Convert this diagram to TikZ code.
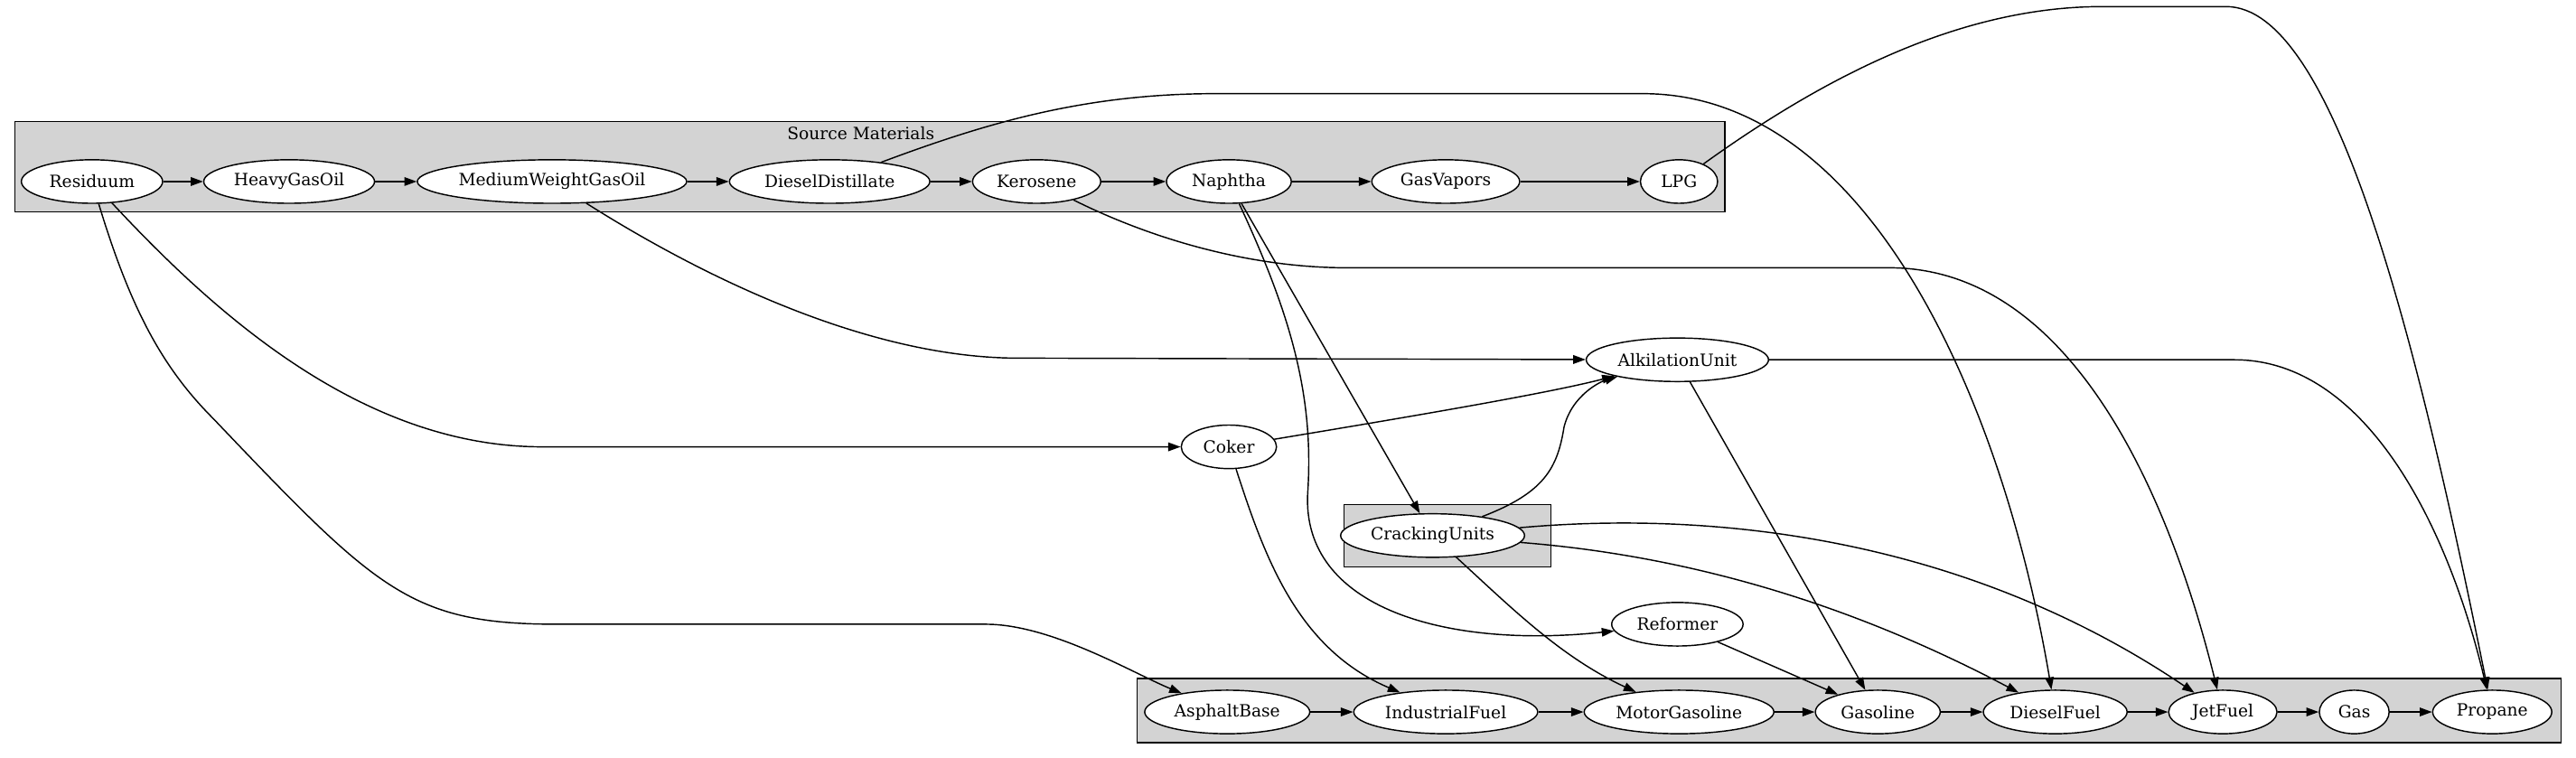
\documentclass[tikz,border=0pt]{standalone}
\usepackage{fontspec}
\setmainfont{DejaVu Serif}
\usetikzlibrary{shapes.geometric,arrows.meta}
\definecolor{clusterGray}{RGB}{211,211,211}

\begin{document}
\begin{tikzpicture}[x=0.02cm, y=-0.02cm,
  every node/.style={font=\fontsize{5.84}{7}\selectfont},
  stage/.style={ellipse, draw, fill=white, inner sep=0pt, minimum height=0.53cm},
  cluster/.style={draw, fill=clusterGray},
  flow/.style={-{Triangle[length=0.15cm,width=0.105cm]}},
  every path/.style={line width=0.45pt}]
  \useasboundingbox (0,0) rectangle (1568,461);
  % Clusters
  \draw[cluster] (9,74) rectangle (1050,129);
  \node (srcLabel) at (524,81) {Source Materials};
  \draw[cluster] (818,307) rectangle (944,345);
  \draw[cluster] (692,413) rectangle (1559,452);
  % Source materials
  \node[stage, minimum width=1.72cm] (Residuum) at (56,110.5) {Residuum};
  \node[stage, minimum width=2.08cm] (HeavyGasOil) at (176,110.5) {HeavyGasOil};
  \node[stage, minimum width=3.28cm] (MediumWeightGasOil) at (336,110.5) {MediumWeightGasOil};
  \node[stage, minimum width=2.44cm] (DieselDistillate) at (505,110.5) {DieselDistillate};
  \node[stage, minimum width=1.56cm] (Kerosene) at (631,110.5) {Kerosene};
  \node[stage, minimum width=1.52cm] (Naphtha) at (748,110.5) {Naphtha};
  \node[stage, minimum width=1.8cm] (GasVapors) at (880,110.5) {GasVapors};
  \node[stage, minimum width=0.94cm] (LPG) at (1022,110.5) {LPG};
  % Processing units
  \node[stage, minimum width=2.22cm] (AlkilationUnit) at (1021,219) {AlkilationUnit};
  \node[stage, minimum width=1.16cm] (Coker) at (748,272) {Coker};
  \node[stage, minimum width=2.24cm] (CrackingUnits) at (872,326) {CrackingUnits};
  \node[stage, minimum width=1.6cm] (Reformer) at (1021,380) {Reformer};
  % Products
  \node[stage, minimum width=2.01cm] (AsphaltBase) at (747,433.4) {AsphaltBase};
  \node[stage, minimum width=2.24cm] (IndustrialFuel) at (880,433.4) {IndustrialFuel};
  \node[stage, minimum width=2.31cm] (MotorGasoline) at (1022,433.4) {MotorGasoline};
  \node[stage, minimum width=1.52cm] (Gasoline) at (1143,433.4) {Gasoline};
  \node[stage, minimum width=1.75cm] (DieselFuel) at (1251,433.4) {DieselFuel};
  \node[stage, minimum width=1.32cm] (JetFuel) at (1353,433.4) {JetFuel};
  \node[stage, minimum width=0.85cm] (Gas) at (1433,433.4) {Gas};
  \node[stage, minimum width=1.45cm] (Propane) at (1517,433.4) {Propane};
  % Chains
  \draw[flow] (Residuum) -- (HeavyGasOil);
  \draw[flow] (HeavyGasOil) -- (MediumWeightGasOil);
  \draw[flow] (MediumWeightGasOil) -- (DieselDistillate);
  \draw[flow] (DieselDistillate) -- (Kerosene);
  \draw[flow] (Kerosene) -- (Naphtha);
  \draw[flow] (Naphtha) -- (GasVapors);
  \draw[flow] (GasVapors) -- (LPG);
  \draw[flow] (AsphaltBase) -- (IndustrialFuel);
  \draw[flow] (IndustrialFuel) -- (MotorGasoline);
  \draw[flow] (MotorGasoline) -- (Gasoline);
  \draw[flow] (Gasoline) -- (DieselFuel);
  \draw[flow] (DieselFuel) -- (JetFuel);
  \draw[flow] (JetFuel) -- (Gas);
  \draw[flow] (Gas) -- (Propane);
  % Long routes
  \draw[flow] (LPG) .. controls (1120,40) and (1200,4) .. (1280,4) -- (1355,4)
    .. controls (1420,4) and (1470,200) .. (Propane);
  \draw[flow] (DieselDistillate) .. controls (600,75) and (660,57) .. (740,57) -- (1000,57)
    .. controls (1140,57) and (1220,250) .. (DieselFuel);
  \draw[flow] (Kerosene) .. controls (700,145) and (760,163) .. (820,163) -- (1150,163)
    .. controls (1260,163) and (1320,300) .. (JetFuel);
  \draw[flow] (MediumWeightGasOil) .. controls (430,170) and (530,218) .. (620,218) -- (AlkilationUnit);
  \draw[flow] (Residuum) .. controls (130,190) and (220,272) .. (330,272) -- (Coker);
  \draw[flow] (Residuum) .. controls (80,190) and (100,225) .. (130,255)
    .. controls (230,360) and (250,380) .. (340,380) -- (600,380)
    .. controls (640,380) and (690,410) .. (AsphaltBase);
  \draw[flow] (Naphtha) -- (CrackingUnits);
  \draw[flow] (Naphtha) .. controls (785,190) and (800,240) .. (796,300)
    .. controls (792,370) and (880,395) .. (Reformer);
  \draw[flow] (Coker) .. controls (850,255) and (940,240) .. (AlkilationUnit);
  \draw[flow] (CrackingUnits) .. controls (940,300) and (948,285) .. (952,260)
    .. controls (957,240) and (975,232) .. (AlkilationUnit);
  \draw[flow] (Coker) .. controls (770,340) and (790,395) .. (IndustrialFuel);
  \draw[flow] (CrackingUnits) .. controls (920,370) and (950,400) .. (MotorGasoline);
  \draw[flow] (CrackingUnits) .. controls (1050,340) and (1150,380) .. (DieselFuel);
  \draw[flow] (CrackingUnits) .. controls (1050,310) and (1200,330) .. (JetFuel);
  \draw[flow] (AlkilationUnit) -- (Gasoline);
  \draw[flow] (AlkilationUnit) -- (1360,219) .. controls (1440,219) and (1490,320) .. (Propane);
  \draw[flow] (Reformer) -- (Gasoline);
\end{tikzpicture}
\end{document}
